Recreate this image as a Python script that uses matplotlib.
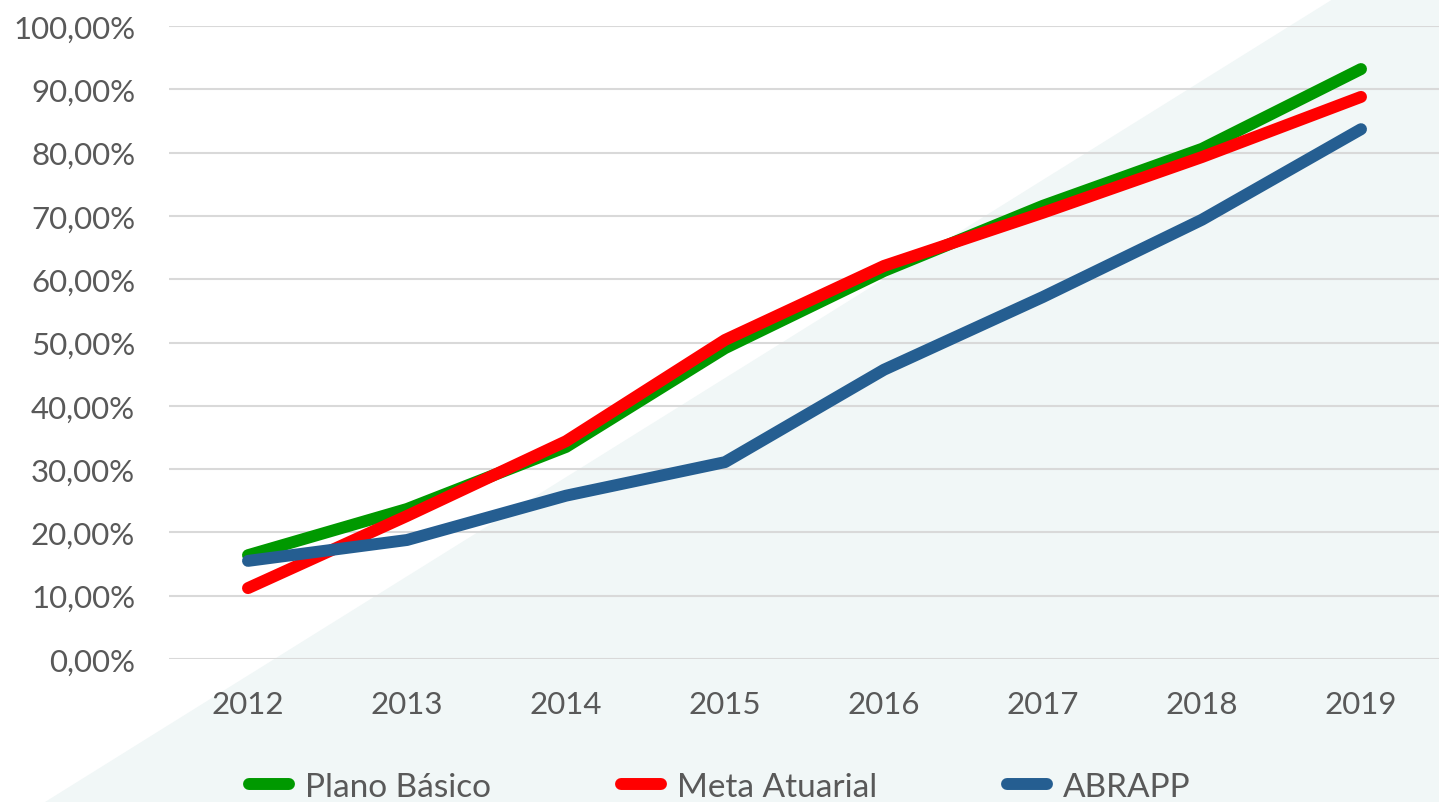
import matplotlib
matplotlib.use("Agg")
import matplotlib.pyplot as plt
from matplotlib.patches import Polygon
from matplotlib.ticker import FuncFormatter

# dados (rentabilidade acumulada em %)
anos = ["2012", "2013", "2014", "2015", "2016", "2017", "2018", "2019"]
plano_basico = [16.4, 23.7, 33.5, 49.1, 61.3, 71.6, 80.6, 93.2]
meta_atuarial = [11.2, 22.6, 34.4, 50.4, 62.1, 70.5, 79.3, 88.8]
abrapp = [15.5, 18.8, 25.8, 31.1, 45.7, 57.2, 69.4, 83.7]

plt.rcParams["font.family"] = ["Lato", "DejaVu Sans"]
cor_texto = "#595959"
fs = 22.5

fig = plt.figure(figsize=(14.39, 8.03), dpi=100)

# fundo diagonal claro
W, H = 1439, 803
tri = Polygon([(45 / W, 0), (1333 / W, 1), (1, 1), (1, 0)], closed=True,
              transform=fig.transFigure, facecolor="#F1F7F7", edgecolor="none", zorder=-10)
fig.patches.append(tri)

ax = fig.add_axes([168.5 / W, 143 / H, 1272 / W, 633 / H])
ax.set_facecolor("none")

x = list(range(len(anos)))
ax.plot(x, plano_basico, color="#009900", lw=8.6, solid_capstyle="round", label="Plano Básico", zorder=3)
ax.plot(x, meta_atuarial, color="#FF0000", lw=8.6, solid_capstyle="round", label="Meta Atuarial", zorder=4)
ax.plot(x, abrapp, color="#255E91", lw=8.6, solid_capstyle="round", label="ABRAPP", zorder=5)

ax.set_xlim(-0.5, len(anos) - 0.5)
ax.set_ylim(0, 100)
ax.set_yticks(range(0, 101, 10))
ax.yaxis.set_major_formatter(FuncFormatter(lambda v, p: f"{v:.2f}%".replace(".", ",")))
ax.set_xticks(x)
ax.set_xticklabels(anos)

ax.grid(axis="y", color="#D9D9D9", lw=1.5, zorder=1)
ax.set_axisbelow(True)
for s in ax.spines.values():
    s.set_visible(False)
ax.tick_params(axis="both", length=0, labelsize=fs, labelcolor=cor_texto)
ax.tick_params(axis="y", pad=24)
ax.tick_params(axis="x", pad=22)

leg = fig.legend(loc="center", bbox_to_anchor=(0.5, 15 / H), ncol=3, frameon=False,
                 fontsize=24, handlelength=1.2, handletextpad=0.48, columnspacing=3.9)
for t in leg.get_texts():
    t.set_color(cor_texto)
for h in leg.get_lines():
    h.set_solid_capstyle("round")

fig.savefig("out.png", dpi=100)
